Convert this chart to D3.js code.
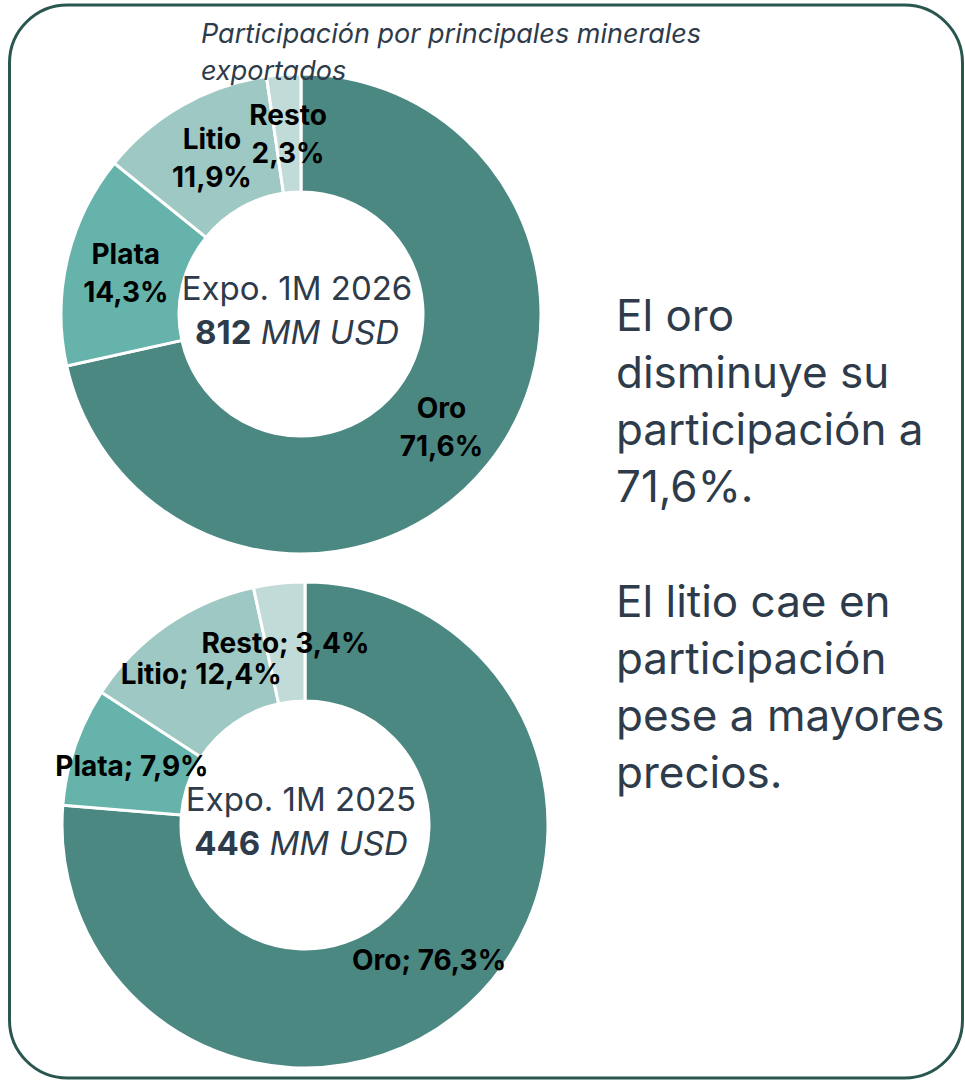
<!DOCTYPE html>
<html>
<head>
<meta charset="utf-8">
<script src="https://cdn.jsdelivr.net/npm/d3@7"></script>
<style>
  body { margin: 0; background: #fff; }
  svg { display: block; font-family: Inter, 'Noto Sans', sans-serif; }
</style>
</head>
<body>
<svg id="chart" width="965" height="1080"></svg>
<script>
const categories = ['Oro', 'Plata', 'Litio', 'Resto'];
const shares2026 = [71.6, 14.3, 11.9, 2.3];
const shares2025 = [76.3, 7.9, 12.4, 3.4];
const years = ['2026', '2025'];
const totals = [812, 446];
const titleLines = ['Participación por principales minerales', 'exportados'];
const noteLines = [
  ['El oro', 'disminuye su', 'participación a', '71,6%.'],
  ['El litio cae en', 'participación', 'pese a mayores', 'precios.'],
];

const colors = d3.scaleOrdinal()
  .domain(categories)
  .range(['#4b8882', '#65b3ab', '#9ec8c3', '#c1dbd8']);

const textColor = '#2e3b4a';
const fmt = (v) => v.toFixed(1).replace('.', ',') + '%';

const svg = d3.select('#chart');

// frame
svg.append('rect')
  .attr('x', 9.5)
  .attr('y', 5)
  .attr('width', 953)
  .attr('height', 1073)
  .attr('rx', 58)
  .attr('fill', 'none')
  .attr('stroke', '#2a5650')
  .attr('stroke-width', 3);

const pie = d3.pie().sort(null).value((d) => d.value);

function drawDonut({ cx, cy, outer, inner, labelR, values, year, total, twoLine }) {
  const data = categories.map((name, i) => ({ name, value: values[i] }));
  const arcs = pie(data);
  const arc = d3.arc().innerRadius(inner).outerRadius(outer);
  const labelArc = d3.arc().innerRadius(labelR).outerRadius(labelR);

  const g = svg.append('g').attr('transform', `translate(${cx},${cy})`);

  g.selectAll('path')
    .data(arcs)
    .enter()
    .append('path')
    .attr('d', arc)
    .attr('fill', (d) => colors(d.data.name))
    .attr('stroke', '#fff')
    .attr('stroke-width', 3);

  const labels = g.selectAll('text.lbl')
    .data(arcs)
    .enter()
    .append('text')
    .attr('class', 'lbl')
    .attr('text-anchor', 'middle')
    .attr('font-size', 28)
    .attr('font-weight', 700)
    .attr('fill', '#000')
    .attr('transform', (d) => {
      const [x, y] = labelArc.centroid(d);
      return `translate(${x},${y})`;
    });

  if (twoLine) {
    labels.append('tspan').attr('x', 0).attr('y', -9).text((d) => d.data.name);
    labels.append('tspan').attr('x', 0).attr('y', 29).text((d) => fmt(d.data.value));
  } else {
    labels.attr('y', 10).text((d) => `${d.data.name}; ${fmt(d.data.value)}`);
  }

  g.append('text')
    .attr('text-anchor', 'middle')
    .attr('x', -4)
    .attr('y', -14)
    .attr('font-size', 33)
    .attr('fill', textColor)
    .text(`Expo. 1M ${year}`);

  const t = g.append('text')
    .attr('text-anchor', 'middle')
    .attr('x', -4)
    .attr('y', 30)
    .attr('font-size', 33)
    .attr('fill', textColor);
  t.append('tspan').attr('font-weight', 700).text(total);
  t.append('tspan').attr('font-style', 'italic').text(' MM USD');
}

drawDonut({ cx: 301, cy: 314, outer: 240, inner: 122, labelR: 180,
  values: shares2026, year: years[0], total: totals[0], twoLine: true });
drawDonut({ cx: 305, cy: 825, outer: 243, inner: 124, labelR: 183,
  values: shares2025, year: years[1], total: totals[1], twoLine: false });

// title
svg.append('text')
  .attr('font-size', 27)
  .attr('font-style', 'italic')
  .attr('fill', textColor)
  .selectAll('tspan')
  .data(titleLines)
  .enter()
  .append('tspan')
  .attr('x', 201)
  .attr('y', (d, i) => 43 + i * 37)
  .text((d) => d);

// notes on the right
noteLines.forEach((lines, p) => {
  svg.append('text')
    .attr('font-size', 44)
    .attr('fill', textColor)
    .selectAll('tspan')
    .data(lines)
    .enter()
    .append('tspan')
    .attr('x', 616)
    .attr('y', (d, i) => 331 + p * 286 + i * 57)
    .text((d) => d);
});
</script>
</body>
</html>
